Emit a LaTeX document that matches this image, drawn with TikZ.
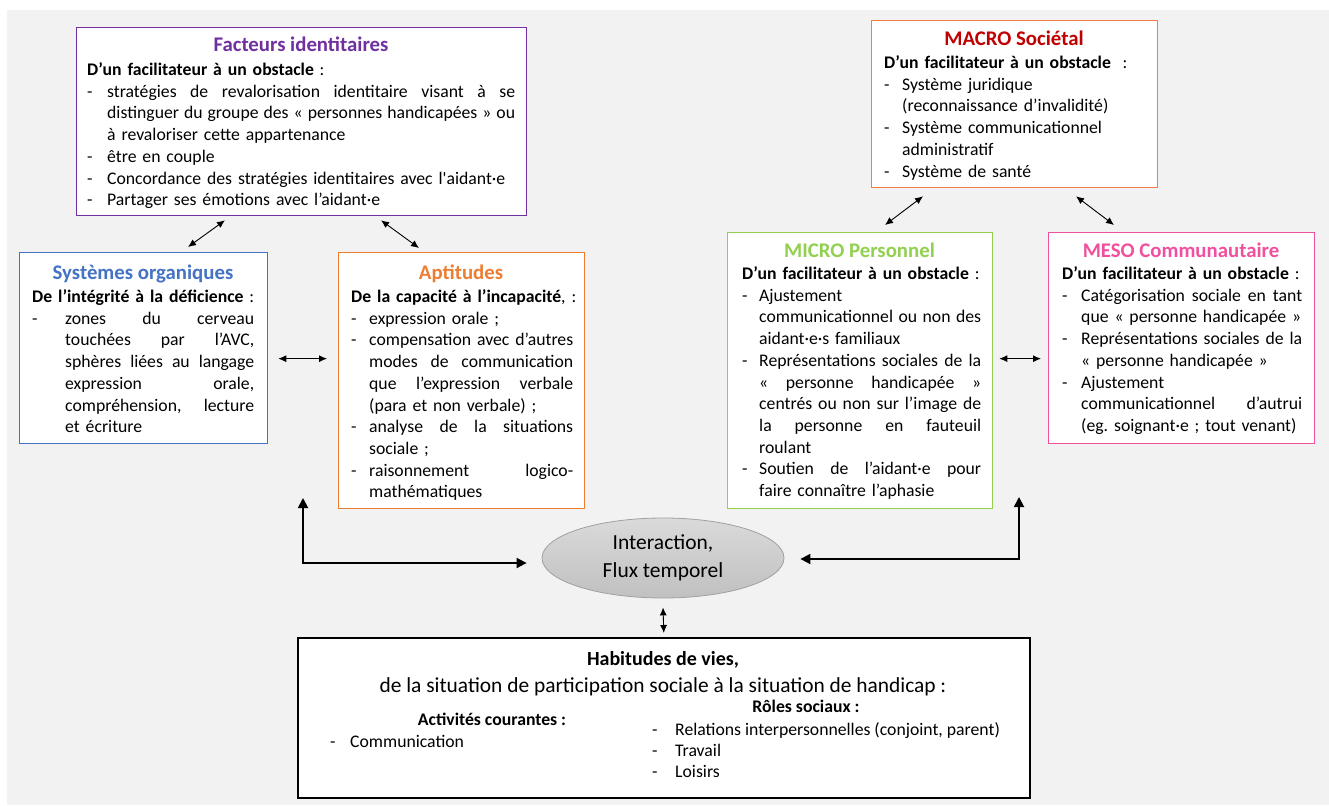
\documentclass[tikz,border=0pt]{standalone}
\usepackage{fontspec}
\setmainfont{Carlito}[Ligatures=TeXOff]
\usetikzlibrary{arrows.meta,shapes.geometric}
\definecolor{cPurple}{HTML}{7030A0}
\definecolor{cBlue}{HTML}{4472C4}
\definecolor{cOrange}{HTML}{ED7D31}
\definecolor{cMacro}{HTML}{F47E43}
\definecolor{cRed}{HTML}{C00000}
\definecolor{cGreen}{HTML}{92D050}
\definecolor{cPink}{HTML}{F0509E}
\definecolor{cBg}{HTML}{F2F2F2}
\frenchspacing
\newdimen\itmw
\newcommand{\bodyfont}{\fontsize{17.7}{21.7}\selectfont}
\newcommand{\ttlfont}{\fontsize{20.8}{25}\selectfont\bfseries}
\newcommand{\itm}[2]{\par\hangindent=#1\hangafter=0\noindent\itmw=\dimexpr\hsize-#1\relax\llap{\makebox[#1][l]{-}}#2\par}
\newcommand{\jl}[1]{\hbox to\itmw{\spaceskip=0.226em plus 1fil minus 0.06em\relax #1}}
\tikzset{
  box/.style={draw, line width=1.3pt, fill=white, inner sep=0pt, anchor=north west},
  ttl/.style={anchor=base, inner sep=0pt, font=\ttlfont},
  body/.style={anchor=north west, inner sep=0pt, font=\bodyfont},
  sarr/.style={line width=0.9pt, {Latex[length=8pt,width=7pt]}-{Latex[length=8pt,width=7pt]}},
  barr/.style={line width=1.8pt, {Triangle[length=10pt,width=10pt]}-{Triangle[length=10pt,width=10pt]}},
  btxt/.style={anchor=base, inner sep=0pt, font=\bodyfont},
}
\begin{document}
\begin{tikzpicture}[x=1pt,y=-1pt]
\useasboundingbox (0,0) rectangle (1329,805);
\fill[white] (0,0) rectangle (1329,805);
\fill[cBg] (7,10) rectangle (1329,805);

% boxes
\node[box, draw=cPurple, minimum width=450pt, minimum height=188pt] (fi) at (76,27) {};
\node[box, draw=cBlue, minimum width=248pt, minimum height=191pt] (so) at (19,252) {};
\node[box, draw=cOrange, minimum width=246pt, minimum height=256pt] (ap) at (338,252) {};
\node[box, draw=cMacro, minimum width=286pt, minimum height=167pt] (ma) at (871,20) {};
\node[box, draw=cGreen, minimum width=265pt, minimum height=276pt] (mi) at (727,232) {};
\node[box, draw=cPink, minimum width=266pt, minimum height=211pt] (me) at (1048,232) {};
\node[box, draw=black, line width=1.6pt, minimum width=732pt, minimum height=160pt] (hv) at (297,637) {};
\node[ellipse, draw={rgb,255:red,160;green,160;blue,160}, line width=0.8pt, top color={rgb,255:red,218;green,218;blue,218}, bottom color={rgb,255:red,192;green,192;blue,192}, minimum width=242pt, minimum height=80pt, inner sep=0pt, align=center, font=\fontsize{21.5}{28}\selectfont] (el) at (663,558) {Interaction,\\Flux temporel};

% titles
\node[ttl, text=cPurple] (fi-t) at (301,52) {Facteurs identitaires};
\node[ttl, text=cBlue] (so-t) at (143,279) {Systèmes organiques};
\node[ttl, text=cOrange] (ap-t) at (461,279) {Aptitudes};
\node[ttl, text=cRed] (ma-t) at (1014,46) {MACRO Sociétal};
\node[ttl, text=cGreen] (mi-t) at (859.5,257) {MICRO Personnel};
\node[ttl, text=cPink] (me-t) at (1181,257) {MESO Communautaire};

% bodies
\node[body, text width=428pt] (fi-b) at (87,62.5) {\bodyfont\mbox{\textbf{D’un facilitateur à un obstacle} :}
\itm{20pt}{\jl{stratégies de revalorisation identitaire visant à se} \jl{distinguer du groupe des « personnes handicapées » ou} à revaloriser cette appartenance}
\itm{20pt}{être en couple}
\itm{20pt}{Concordance des stratégies identitaires avec l'aidant·e}
\itm{20pt}{Partager ses émotions avec l’aidant·e}};

\node[body, text width=222pt] (so-b) at (32,289.5) {\bodyfont\mbox{\textbf{De l’intégrité à la déficience} :}
\itm{33pt}{\jl{zones du cerveau} \jl{touchées par l’AVC,} \jl{sphères liées au langage} \jl{expression orale,} \jl{compréhension, lecture} et écriture}};

\node[body, text width=222pt] (ap-b) at (351,289.5) {\bodyfont\mbox{\textbf{De la capacité à l’incapacité}, :}
\itm{18pt}{expression orale ;}
\itm{18pt}{\jl{compensation avec d’autres} \jl{modes de communication} \jl{que l’expression verbale} (para et non verbale) ;}
\itm{18pt}{\jl{analyse de la situations} sociale ;}
\itm{18pt}{\jl{raisonnement logico-} mathématiques}};

\node[body, text width=261pt] (ma-b) at (884,55.5) {\bodyfont\mbox{\textbf{D’un facilitateur à un obstacle}\ \ :}
\itm{18pt}{Système juridique\newline (reconnaissance d’invalidité)}
\itm{18pt}{Système communicationnel\newline administratif}
\itm{18pt}{Système de santé}};

\node[body, text width=239pt] (mi-b) at (742,266.5) {\bodyfont\mbox{\textbf{D’un facilitateur à un obstacle} :}
\itm{17pt}{Ajustement\newline\jl{communicationnel ou non des} aidant·e·s familiaux}
\itm{17pt}{\jl{Représentations sociales de la} \jl{« personne handicapée »} \jl{centrés ou non sur l’image de} \jl{la personne en fauteuil} roulant}
\itm{17pt}{\jl{Soutien de l’aidant·e pour} faire connaître l’aphasie}};

\node[body, text width=240pt] (me-b) at (1062,266.5) {\bodyfont\mbox{\textbf{D’un facilitateur à un obstacle} :}
\itm{19pt}{\jl{Catégorisation sociale en tant} \mbox{que « personne handicapée »}}
\itm{19pt}{\jl{Représentations sociales de la} \mbox{« personne handicapée »}}
\itm{19pt}{Ajustement\newline\jl{communicationnel d’autrui} \mbox{(eg. soignant·e ; tout venant)}}};

% bottom box texts
\node[anchor=base, inner sep=0pt, font=\fontsize{20}{24}\selectfont\bfseries] (hv-t) at (663,665) {Habitudes de vies,};
\node[anchor=base, inner sep=0pt, font=\fontsize{21.4}{26}\selectfont] (hv-s) at (663,692) {de la situation de participation sociale à la situation de handicap :};
\node[btxt, font=\bodyfont\bfseries] (hv-r) at (806,712) {Rôles sociaux :};
\node[btxt, font=\bodyfont\bfseries] (hv-a) at (492,725) {Activités courantes :};
\node[btxt, anchor=base west] (hv-d1) at (330,747) {-};
\node[btxt, anchor=base west] (hv-c) at (350,747) {Communication};
\node[btxt, anchor=base west] (hv-d2) at (652,735) {-};
\node[btxt, anchor=base west] (hv-r1) at (675,735) {Relations interpersonnelles (conjoint, parent)};
\node[btxt, anchor=base west] (hv-d3) at (652,756) {-};
\node[btxt, anchor=base west] (hv-r2) at (675,756) {Travail};
\node[btxt, anchor=base west] (hv-d4) at (652,777) {-};
\node[btxt, anchor=base west] (hv-r3) at (675,777) {Loisirs};

% connectors
\draw[sarr] ([xshift=169pt,yshift=5pt]so.north west) -- ([xshift=149pt,yshift=-4pt]fi.south west);
\draw[sarr] ([xshift=305pt,yshift=-4pt]fi.south west) -- ([xshift=81pt,yshift=4pt]ap.north west);
\draw[sarr] ([xshift=10pt,yshift=-10.5pt]so.east) -- ([xshift=-11pt,yshift=22pt]ap.west);
\draw[sarr] ([xshift=158pt,yshift=7pt]mi.north west) -- ([xshift=52pt,yshift=-8pt]ma.south west);
\draw[sarr] ([xshift=205pt,yshift=-8pt]ma.south west) -- ([xshift=66pt,yshift=7pt]me.north west);
\draw[sarr] ([xshift=6pt,yshift=12pt]mi.east) -- ([xshift=-7pt,yshift=-20.5pt]me.west);
\coordinate (lt) at (303,498);
\coordinate (rt) at (1019,497);
\draw[barr] (lt) |- ([xshift=-15pt,yshift=-5pt]el.west);
\draw[barr] ([xshift=16pt,yshift=-1pt]el.east) -| (rt);
\draw[sarr] ([yshift=-9pt]el.south) -- ([yshift=4pt]hv.north);
\end{tikzpicture}
\end{document}
